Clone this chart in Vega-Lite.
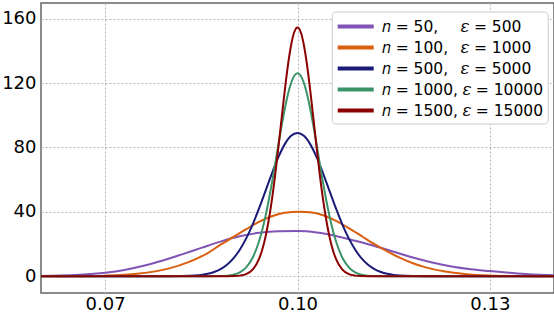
{
  "$schema": "https://vega.github.io/schema/vega-lite/v6.json",
  "width": 513,
  "height": 290,
  "autosize": {"type": "none"},
  "padding": {"left": 41, "top": 3, "right": 0, "bottom": 21},
  "background": "white",
  "config": {
    "font": "DejaVu Sans",
    "view": {"stroke": "#666666", "strokeWidth": 1.5},
    "axis": {
      "domain": false,
      "ticks": false,
      "grid": true,
      "gridColor": "#b5b5b5",
      "gridDash": [2, 2],
      "gridWidth": 1,
      "labelFont": "DejaVu Sans",
      "labelFontSize": 18,
      "labelColor": "#000000",
      "labelPadding": 5,
      "title": null
    },
    "axisX": {"labelPadding": 2},
    "legend": {
      "orient": "none",
      "legendX": 290.7,
      "legendY": 8.5,
      "strokeColor": "#cccccc",
      "fillColor": "#ffffff",
      "cornerRadius": 4,
      "padding": 4,
      "symbolType": "M-1,0H3",
      "symbolStrokeWidth": 4,
      "symbolSize": 324,
      "labelFont": "DejaVu Sans",
      "labelFontSize": 15.5,
      "labelColor": "#000000",
      "labelOffset": 24,
      "labelLimit": 400,
      "rowPadding": 1,
      "title": null
    }
  },
  "data": {
    "values": [
      {"k":0,"x":0.060,"y":0.2},{"k":0,"x":0.063,"y":0.4},{"k":0,"x":0.066,"y":0.9},{"k":0,"x":0.070,"y":2.2},{"k":0,"x":0.073,"y":3.9},{"k":0,"x":0.076,"y":6.5},{"k":0,"x":0.079,"y":9.8},{"k":0,"x":0.082,"y":13.6},{"k":0,"x":0.085,"y":17.6},{"k":0,"x":0.088,"y":21.5},{"k":0,"x":0.091,"y":24.8},{"k":0,"x":0.094,"y":27.0},{"k":0,"x":0.097,"y":28.0},{"k":0,"x":0.100,"y":28.1},{"k":0,"x":0.103,"y":27.2},{"k":0,"x":0.106,"y":25.0},{"k":0,"x":0.109,"y":22.0},{"k":0,"x":0.112,"y":18.8},{"k":0,"x":0.115,"y":15.2},{"k":0,"x":0.118,"y":11.6},{"k":0,"x":0.121,"y":8.5},{"k":0,"x":0.124,"y":6.1},{"k":0,"x":0.127,"y":4.4},{"k":0,"x":0.130,"y":3.2},{"k":0,"x":0.133,"y":2.2},{"k":0,"x":0.136,"y":1.3},{"k":0,"x":0.140,"y":0.6},

      {"k":1,"x":0.060,"y":0.01},{"k":1,"x":0.065,"y":0.07},{"k":1,"x":0.070,"y":0.37},{"k":1,"x":0.075,"y":1.5},{"k":1,"x":0.080,"y":4.9},{"k":1,"x":0.083,"y":8.8},{"k":1,"x":0.086,"y":14.4},{"k":1,"x":0.088,"y":19.6},{"k":1,"x":0.090,"y":24.4},{"k":1,"x":0.092,"y":29.2},{"k":1,"x":0.094,"y":33.8},{"k":1,"x":0.096,"y":37.3},{"k":1,"x":0.098,"y":39.4},{"k":1,"x":0.1003,"y":40.0},{"k":1,"x":0.102,"y":39.7},{"k":1,"x":0.104,"y":37.9},{"k":1,"x":0.106,"y":34.4},{"k":1,"x":0.108,"y":29.9},{"k":1,"x":0.110,"y":24.9},{"k":1,"x":0.112,"y":19.9},{"k":1,"x":0.114,"y":15.4},{"k":1,"x":0.116,"y":11.4},{"k":1,"x":0.118,"y":8.1},{"k":1,"x":0.120,"y":5.5},{"k":1,"x":0.123,"y":2.9},{"k":1,"x":0.126,"y":1.4},{"k":1,"x":0.130,"y":0.44},{"k":1,"x":0.135,"y":0.09},{"k":1,"x":0.140,"y":0.01},

      {"k":2,"x":0.060,"y":0},{"k":2,"x":0.078,"y":0},{"k":2,"x":0.080,"y":0.02},{"k":2,"x":0.082,"y":0.10},{"k":2,"x":0.084,"y":0.43},{"k":2,"x":0.085,"y":0.82},{"k":2,"x":0.086,"y":1.5},{"k":2,"x":0.087,"y":2.64},{"k":2,"x":0.088,"y":4.44},{"k":2,"x":0.089,"y":7.16},{"k":2,"x":0.090,"y":11.1},{"k":2,"x":0.091,"y":16.5},{"k":2,"x":0.092,"y":23.5},{"k":2,"x":0.093,"y":32.1},{"k":2,"x":0.094,"y":42.1},{"k":2,"x":0.095,"y":52.9},{"k":2,"x":0.096,"y":63.8},{"k":2,"x":0.097,"y":73.8},{"k":2,"x":0.098,"y":81.9},{"k":2,"x":0.099,"y":87.2},{"k":2,"x":0.100,"y":89.0},{"k":2,"x":0.101,"y":87.2},{"k":2,"x":0.102,"y":81.9},{"k":2,"x":0.103,"y":73.8},{"k":2,"x":0.104,"y":63.8},{"k":2,"x":0.105,"y":52.9},{"k":2,"x":0.106,"y":42.1},{"k":2,"x":0.107,"y":32.1},{"k":2,"x":0.108,"y":23.5},{"k":2,"x":0.109,"y":16.5},{"k":2,"x":0.110,"y":11.1},{"k":2,"x":0.111,"y":7.16},{"k":2,"x":0.112,"y":4.44},{"k":2,"x":0.113,"y":2.64},{"k":2,"x":0.114,"y":1.5},{"k":2,"x":0.115,"y":0.82},{"k":2,"x":0.116,"y":0.43},{"k":2,"x":0.118,"y":0.10},{"k":2,"x":0.120,"y":0.02},{"k":2,"x":0.122,"y":0},{"k":2,"x":0.140,"y":0},

      {"k":3,"x":0.060,"y":0},{"k":3,"x":0.086,"y":0.01},{"k":3,"x":0.088,"y":0.11},{"k":3,"x":0.089,"y":0.34},{"k":3,"x":0.090,"y":0.95},{"k":3,"x":0.091,"y":2.41},{"k":3,"x":0.092,"y":5.53},{"k":3,"x":0.093,"y":11.5},{"k":3,"x":0.094,"y":21.7},{"k":3,"x":0.0945,"y":28.8},{"k":3,"x":0.095,"y":37.2},{"k":3,"x":0.0955,"y":46.9},{"k":3,"x":0.096,"y":57.7},{"k":3,"x":0.0965,"y":69.3},{"k":3,"x":0.097,"y":81.2},{"k":3,"x":0.0975,"y":92.9},{"k":3,"x":0.098,"y":103.6},{"k":3,"x":0.0985,"y":112.9},{"k":3,"x":0.099,"y":120.0},{"k":3,"x":0.0995,"y":124.5},{"k":3,"x":0.100,"y":126.0},{"k":3,"x":0.1005,"y":124.5},{"k":3,"x":0.101,"y":120.0},{"k":3,"x":0.1015,"y":112.9},{"k":3,"x":0.102,"y":103.6},{"k":3,"x":0.1025,"y":92.9},{"k":3,"x":0.103,"y":81.2},{"k":3,"x":0.1035,"y":69.3},{"k":3,"x":0.104,"y":57.7},{"k":3,"x":0.1045,"y":46.9},{"k":3,"x":0.105,"y":37.2},{"k":3,"x":0.1055,"y":28.8},{"k":3,"x":0.106,"y":21.7},{"k":3,"x":0.107,"y":11.5},{"k":3,"x":0.108,"y":5.53},{"k":3,"x":0.109,"y":2.41},{"k":3,"x":0.110,"y":0.95},{"k":3,"x":0.111,"y":0.34},{"k":3,"x":0.112,"y":0.11},{"k":3,"x":0.114,"y":0.01},{"k":3,"x":0.140,"y":0},

      {"k":4,"x":0.060,"y":0},{"k":4,"x":0.088,"y":0},{"k":4,"x":0.089,"y":0.02},{"k":4,"x":0.090,"y":0.09},{"k":4,"x":0.091,"y":0.39},{"k":4,"x":0.092,"y":1.36},{"k":4,"x":0.093,"y":4.12},{"k":4,"x":0.094,"y":10.8},{"k":4,"x":0.0945,"y":16.5},{"k":4,"x":0.095,"y":24.3},{"k":4,"x":0.0955,"y":34.6},{"k":4,"x":0.096,"y":47.3},{"k":4,"x":0.0965,"y":62.4},{"k":4,"x":0.097,"y":79.4},{"k":4,"x":0.0975,"y":97.3},{"k":4,"x":0.098,"y":114.9},{"k":4,"x":0.0985,"y":130.8},{"k":4,"x":0.099,"y":143.5},{"k":4,"x":0.0995,"y":151.7},{"k":4,"x":0.100,"y":154.5},{"k":4,"x":0.1005,"y":151.7},{"k":4,"x":0.101,"y":143.5},{"k":4,"x":0.1015,"y":130.8},{"k":4,"x":0.102,"y":114.9},{"k":4,"x":0.1025,"y":97.3},{"k":4,"x":0.103,"y":79.4},{"k":4,"x":0.1035,"y":62.4},{"k":4,"x":0.104,"y":47.3},{"k":4,"x":0.1045,"y":34.6},{"k":4,"x":0.105,"y":24.3},{"k":4,"x":0.1055,"y":16.5},{"k":4,"x":0.106,"y":10.8},{"k":4,"x":0.107,"y":4.12},{"k":4,"x":0.108,"y":1.36},{"k":4,"x":0.109,"y":0.39},{"k":4,"x":0.110,"y":0.09},{"k":4,"x":0.111,"y":0.02},{"k":4,"x":0.112,"y":0},{"k":4,"x":0.140,"y":0}
    ]
  },
  "mark": {"type": "line", "strokeWidth": 2, "interpolate": "monotone", "clip": true},
  "encoding": {
    "x": {
      "field": "x",
      "type": "quantitative",
      "scale": {"domain": [0.06, 0.14], "nice": false, "zero": false},
      "axis": {"values": [0.07, 0.10, 0.13], "format": ".2f"}
    },
    "y": {
      "field": "y",
      "type": "quantitative",
      "scale": {"domain": [-10.4, 169.7], "nice": false, "zero": false},
      "axis": {"values": [0, 40, 80, 120, 160]}
    },
    "color": {
      "field": "k",
      "type": "nominal",
      "scale": {"domain": [0, 1, 2, 3, 4], "range": ["#8054b4", "#d95f0e", "#1a1a78", "#3a9468", "#8b0000"]},
      "legend": {
        "labelExpr": "['𝑛 = 50, \u2007\u00a0\u2009𝜀 = 500', '𝑛 = 100, \u00a0\u2009𝜀 = 1000', '𝑛 = 500, \u00a0\u2009𝜀 = 5000', '𝑛 = 1000, 𝜀 = 10000', '𝑛 = 1500, 𝜀 = 15000'][datum.value]"
      }
    }
  }
}
